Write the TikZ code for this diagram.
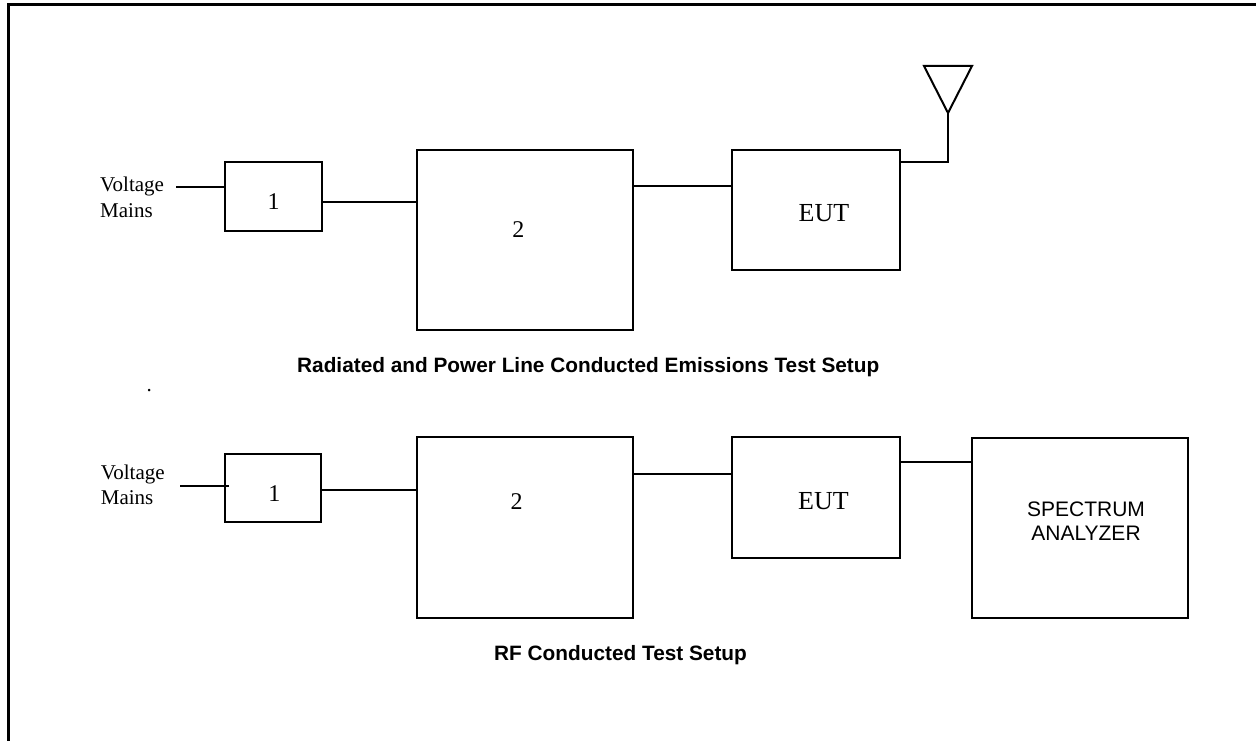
\documentclass[tikz,border=0pt]{standalone}
\usepackage{fontspec}
\setmainfont{Liberation Serif}
\setsansfont{Liberation Sans}
\begin{document}
\begin{tikzpicture}[x=1pt,y=-1pt,
  blk/.style={draw,rectangle,line width=2pt,inner sep=0pt,outer sep=0pt},
  wire/.style={line width=2pt},
  lbl/.style={font=\fontsize{21}{25}\selectfont\rmfamily,anchor=base west,inner sep=0pt},
  num/.style={font=\fontsize{24}{28}\selectfont\rmfamily,anchor=base,inner sep=0pt},
  euttxt/.style={font=\fontsize{26}{30}\selectfont\rmfamily,anchor=base,inner sep=0pt},
  satxt/.style={font=\fontsize{21}{25}\selectfont\sffamily,anchor=base,inner sep=0pt},
  captxt/.style={font=\fontsize{20.8}{25}\selectfont\sffamily\bfseries,anchor=base west,inner sep=0pt}]
\useasboundingbox (0,0) rectangle (1256,741);
% frame
\draw[line width=3pt] (8,745) -- (8,5) -- (1260,5);

% ---------- top row ----------
\node[blk,minimum width=97pt,minimum height=69pt] (b1t) at (273.5,196.5) {};
\node[blk,minimum width=216pt,minimum height=180pt] (b2t) at (525,240) {};
\node[blk,minimum width=168pt,minimum height=120pt] (eutt) at (816,210) {};
\node[lbl] (vt) at (100,192) {Voltage};
\node[lbl] (mt) at (100,217) {Mains};
\node[num] (n1t) at (273.5,209.3) {1};
\node[num] (n2t) at (518.3,237.3) {2};
\node[euttxt] (et) at (824,221.7) {EUT};
\coordinate (vmt) at (176,186.7);
\coordinate (antc) at (948,162.3);
\coordinate (anta) at (948,113);
\coordinate (antl) at (924,66);
\coordinate (antr) at (972,66);
\draw[wire] (vmt) -- (b1t.west |- vmt);
\draw[wire] (b1t.east |- 0,201.7) -- (b2t.west |- 0,201.7);
\draw[wire] (b2t.east |- 0,186) -- (eutt.west |- 0,186);
\draw[wire] (eutt.east |- antc) -- (antc) -- (anta);
\draw[wire,line join=miter] (antl) -- (antr) -- (anta) -- cycle;
\node[captxt] (c1) at (297,372) {Radiated and Power Line Conducted Emissions Test Setup};
\node[lbl] (dot) at (146.5,391) {.};

% ---------- bottom row ----------
\node[blk,minimum width=96pt,minimum height=68pt] (b1b) at (273,488) {};
\node[blk,minimum width=216pt,minimum height=181pt] (b2b) at (525,527.5) {};
\node[blk,minimum width=168pt,minimum height=121pt] (eutb) at (816,497.5) {};
\node[blk,minimum width=216pt,minimum height=180pt] (sab) at (1080,528) {};
\node[lbl] (vb) at (100.7,479) {Voltage};
\node[lbl] (mb) at (100.7,504) {Mains};
\node[num] (n1b) at (274.3,501.7) {1};
\node[num] (n2b) at (516.7,509) {2};
\node[euttxt] (eb) at (823.4,509) {EUT};
\node[satxt] (sa1) at (1086,516.7) {SPECTRUM};
\node[satxt] (sa2) at (1086,540) {ANALYZER};
\coordinate (vmb) at (180,486);
\draw[wire] (vmb) -- ([xshift=4pt]b1b.west |- vmb);
\draw[wire] (b1b.east |- 0,490.3) -- (b2b.west |- 0,490.3);
\draw[wire] (b2b.east |- 0,473.7) -- (eutb.west |- 0,473.7);
\draw[wire] (eutb.east |- 0,462.3) -- (sab.west |- 0,462.3);
\node[captxt] (c2) at (494,660) {RF Conducted Test Setup};
\end{tikzpicture}
\end{document}
